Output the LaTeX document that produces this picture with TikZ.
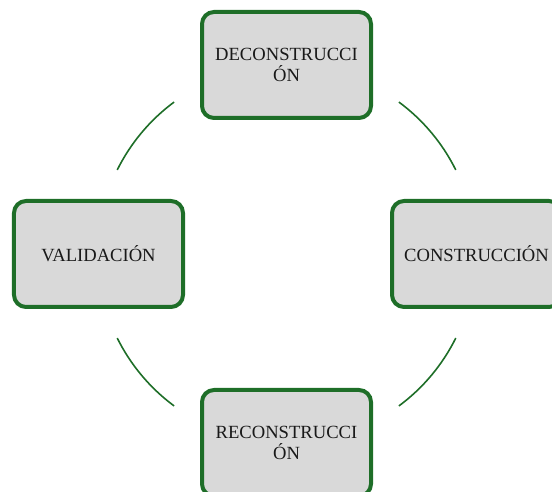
\documentclass[tikz,border=0pt]{standalone}
\usepackage{fontspec}
\setmainfont{Liberation Serif}
\definecolor{boxgreen}{RGB}{30,110,40}
\definecolor{boxgray}{RGB}{217,217,217}
\definecolor{txt}{RGB}{25,25,25}
\begin{document}
\begin{tikzpicture}[x=1bp,y=1bp,
  phase/.style={draw=boxgreen, line width=4bp, fill=boxgray, rounded corners=12bp,
    minimum width=169bp, minimum height=106bp, inner sep=0pt, align=center,
    font=\fontsize{18.6bp}{20.5bp}\selectfont, text=txt},
  cyclearc/.style={draw=boxgreen, line width=1.6bp}]
\clip (0,0) rectangle (552,492);
\useasboundingbox (0,0) rectangle (552,492);
\coordinate (c) at (286.5,238);
\node[phase] (top) at (286.5,427) {DECONSTRUCCI\\ÓN};
\node[phase] (left) at (98.5,238) {VALIDACIÓN};
\node[phase] (right) at (476.5,238) {CONSTRUCCIÓN};
\node[phase] (bottom) at (286.5,49) {RECONSTRUCCI\\ÓN};
\draw[cyclearc] ([shift={(126.5:189)}]c) arc (126.5:153.6:189);
\draw[cyclearc] ([shift={(26.4:189)}]c) arc (26.4:53.5:189);
\draw[cyclearc] ([shift={(206.4:189)}]c) arc (206.4:233.5:189);
\draw[cyclearc] ([shift={(306.5:189)}]c) arc (306.5:333.6:189);
\end{tikzpicture}
\end{document}
